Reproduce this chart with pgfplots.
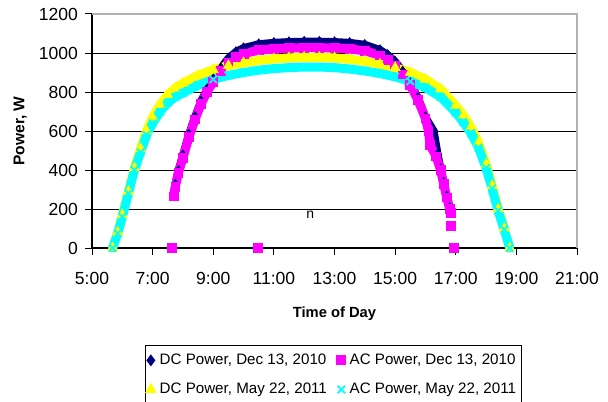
\documentclass[border=0pt]{standalone}
\usepackage{fontspec}
\setmainfont{Liberation Sans}
\usepackage{pgfplots}
\usepackage{pgfplotstable}
\pgfplotsset{compat=1.18}
\definecolor{dcdec}{RGB}{0,0,128}
\definecolor{acdec}{RGB}{255,0,255}
\definecolor{dcmay}{RGB}{255,255,0}
\definecolor{acmay}{RGB}{0,255,255}
\pgfplotsset{smallleg/.style={legend image code/.code={\draw[mark repeat=2,mark phase=2,##1] plot coordinates {(0bp,0bp) (2bp,0bp) (4bp,0bp)};}}}

% time in hours, power in W
\pgfplotstableread{
t p
7.69 275
7.75 325
7.85 395
8.0 475
8.2 582
8.4 672
8.6 752
8.8 815
9.0 865
9.25 922
9.5 972
9.75 1005
10.0 1025
10.5 1045
11.0 1052
11.5 1056
12.0 1058
12.5 1058
13.0 1056
13.5 1052
14.0 1042
14.5 1015
14.75 990
15.0 955
15.25 905
15.5 845
15.75 770
16.0 670
16.27 600
16.4 480
16.5 405
16.6 335
16.7 265
16.8 205
16.83 182
}\dcdec

\pgfplotstableread{
t p
7.69 265
7.75 315
7.85 385
8.0 462
8.2 570
8.4 660
8.6 740
8.8 802
9.0 852
9.25 908
9.5 952
9.75 980
10.0 997
10.5 1014
11.0 1021
11.5 1025
12.0 1027
12.5 1027
13.0 1025
13.5 1021
14.0 1011
14.5 988
14.75 965
15.0 935
15.25 890
15.5 835
15.75 760
16.0 665
16.1 600
16.15 530
16.35 470
16.5 400
16.6 330
16.7 260
16.8 200
16.83 180
}\acdec

\pgfplotstableread{
t p
7.63 0
10.46 0
16.84 113
16.94 0
}\acdecextra

\pgfplotstableread{
t p
5.68 0
5.85 80
6.0 170
6.2 290
6.4 410
6.6 510
6.8 600
7.0 670
7.25 735
7.5 785
7.75 820
8.0 845
8.5 885
9.0 915
9.5 935
10.0 950
10.5 962
11.0 970
11.5 975
12.0 978
12.5 978
13.0 975
13.5 968
14.0 958
14.5 943
15.0 925
15.5 900
16.0 865
16.5 815
17.0 730
17.25 680
17.5 620
17.75 540
18.0 430
18.2 320
18.4 200
18.6 100
18.78 0
}\dcmay

\pgfplotstableread{
t p
5.68 0
5.85 75
6.0 160
6.2 280
6.4 400
6.6 490
6.8 580
7.0 640
7.25 700
7.5 745
7.75 775
8.0 795
8.5 835
9.0 865
9.5 885
10.0 900
10.5 912
11.0 920
11.5 925
12.0 928
12.5 928
13.0 925
13.5 918
14.0 908
14.5 895
15.0 878
15.5 855
16.0 822
16.5 775
17.0 695
17.25 645
17.5 590
17.75 515
18.0 410
18.2 305
18.4 190
18.6 95
18.78 0
}\acmay

\begin{document}
\begin{tikzpicture}
\begin{axis}[
    scale only axis,
    width=242.5bp, height=117bp,
    xmin=5, xmax=21, ymin=0, ymax=1200,
    xtick={5,7,...,21},
    xticklabels={5:00,7:00,9:00,11:00,13:00,15:00,17:00,19:00,21:00},
    ytick={0,200,...,1200},
    /pgf/number format/assume math mode=true,
    /pgf/number format/1000 sep={},
    tick label style={font=\fontsize{8.8}{10}\selectfont},
    xticklabel style={yshift=-5bp},
    axis lines=left,
    axis line style={-, black, line width=0.6bp},
    tick align=outside,
    major tick length=3.5bp,
    tick style={black, line width=0.5bp},
    ymajorgrids,
    grid style={black, line width=0.5bp},
    clip=false,
    xlabel={Time of Day},
    ylabel={Power, W},
    xlabel style={at={(axis description cs:0.5,-0.28)}, anchor=center, font=\bfseries\fontsize{7.4}{9}\selectfont},
    ylabel style={at={(axis description cs:-0.148,0.5)}, anchor=center, font=\bfseries\fontsize{7.8}{9}\selectfont},
    legend style={at={(axis description cs:0.497,-0.415)}, anchor=north,
        legend columns=2, draw=black, line width=0.5bp,
        font=\fontsize{7.6}{9.2}\selectfont,
        inner xsep=0.5bp, inner ysep=2bp, row sep=3.8bp,
        /tikz/every even column/.append style={column sep=3bp}},
    legend cell align=left,
]

\addplot[dcdec, line width=4bp, line join=round, line cap=round, forget plot] table {\dcdec};
\addplot[dcdec, only marks, mark=diamond*, mark size=2.6bp, smallleg] table {\dcdec};
\addlegendentry{DC Power, Dec 13, 2010}

\addplot[acdec, line width=4.5bp, line join=round, line cap=round, forget plot] table {\acdec};
\addplot[acdec, only marks, mark=square*, mark size=2.2bp, smallleg] table {\acdec};
\addlegendentry{AC Power, Dec 13, 2010}
\addplot[acdec, only marks, mark=square*, mark size=2.2bp, forget plot] table {\acdecextra};

\addplot[dcmay, line width=4.5bp, line join=round, line cap=round, forget plot] table {\dcmay};
\addplot[dcmay, only marks, mark=triangle*, mark size=2.8bp, smallleg] table {\dcmay};
\addlegendentry{DC Power, May 22, 2011}

\addplot[acmay, line width=4.5bp, line join=round, line cap=round, forget plot] table {\acmay};
\addplot[acmay, only marks, mark=x, mark size=2.6bp, mark options={line width=0.9bp}, smallleg] table {\acmay};
\addlegendentry{AC Power, May 22, 2011}

\draw[gray!60, line width=0.6bp] (rel axis cs:0,1) -- (rel axis cs:1,1) -- (rel axis cs:1,0);
\node[font=\fontsize{7}{8}\selectfont] at (axis cs:12.2,172) {n};
\end{axis}
\pgfresetboundingbox
\useasboundingbox (-46bp,-77bp) rectangle (258bp,124bp);
\end{tikzpicture}
\end{document}
